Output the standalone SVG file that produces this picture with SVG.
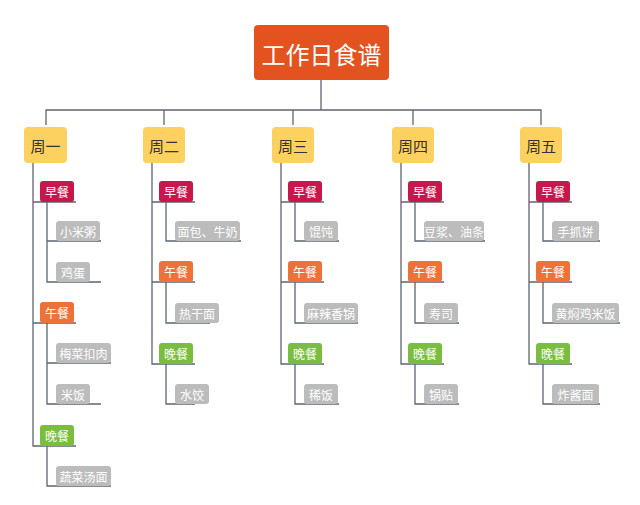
<svg xmlns="http://www.w3.org/2000/svg" width="640" height="505" viewBox="0 0 640 505">
<style>
text{font-family:"Noto Sans CJK SC",sans-serif;text-anchor:middle;dominant-baseline:central}
.root{fill:#e2531f}.day{fill:#fcd15f}.b{fill:#c8174c}.l{fill:#ee7237}.d{fill:#7bbd3e}.it{fill:#bcbcbc}
.w{fill:#fff;font-size:12px}.c path{fill:none;stroke:#5d6670;stroke-width:1.3}
</style>
<rect width="640" height="505" fill="#fff"/>
<g class="c">
<path d="M321 80V110M46 125V110H541V125M164 110V125M293 110V125M413 110V125"/>
<!-- col1 -->
<path d="M33 163V446H76M33 202H76M33 323H76M47 202V241H101M47 241V282H101M47 323V363H111M47 363V404H101M47 446V486H111"/>
<path d="M152 163V364H195M152 202H195M152 282H195M166 202V241H241M166 282V323H210M166 364V404H195"/>
<path d="M281 163V364H324M281 202H324M281 282H324M295 202V241H339M295 282V323H358M295 364V404H339"/>
<path d="M401 163V364H444M401 202H444M401 282H444M415 202V241H485M415 282V323H459M415 364V404H459"/>
<path d="M529 163V364H572M529 202H572M529 282H572M543 202V241H600M543 282V323H620M543 364V404H600"/>
</g>
<g id="root"><rect class="root" x="254" y="25" width="135" height="55" rx="4"/><text x="321.5" y="53" fill="#fff" font-size="24">工作日食谱</text></g>
<g id="d1"><rect class="day" x="24" y="127" width="43" height="36" rx="4"/><text x="45.5" y="145" font-size="15" fill="#333">周一</text></g>
<g id="d2"><rect class="day" x="143" y="127" width="42" height="36" rx="4"/><text x="164" y="145" font-size="15" fill="#333">周二</text></g>
<g id="d3"><rect class="day" x="272" y="127" width="42" height="36" rx="4"/><text x="293" y="145" font-size="15" fill="#333">周三</text></g>
<g id="d4"><rect class="day" x="392" y="127" width="42" height="36" rx="4"/><text x="413" y="145" font-size="15" fill="#333">周四</text></g>
<g id="d5"><rect class="day" x="520" y="127" width="42" height="36" rx="4"/><text x="541" y="145" font-size="15" fill="#333">周五</text></g>
<!-- col1 -->
<g id="m11"><rect class="b" x="40" y="181" width="34" height="21" rx="3"/><text class="w" x="57" y="191.5">早餐</text></g>
<g id="i111"><rect class="it" x="56" y="221" width="44" height="20" rx="3"/><text class="w" x="78" y="231">小米粥</text></g>
<g id="i112"><rect class="it" x="56" y="262" width="34" height="20" rx="3"/><text class="w" x="73" y="272">鸡蛋</text></g>
<g id="m12"><rect class="l" x="40" y="302" width="34" height="21" rx="3"/><text class="w" x="57" y="312.5">午餐</text></g>
<g id="i121"><rect class="it" x="56" y="343" width="55" height="20" rx="3"/><text class="w" x="83.5" y="353">梅菜扣肉</text></g>
<g id="i122"><rect class="it" x="56" y="384" width="34" height="20" rx="3"/><text class="w" x="73" y="394">米饭</text></g>
<g id="m13"><rect class="d" x="40" y="425" width="34" height="21" rx="3"/><text class="w" x="57" y="435.5">晚餐</text></g>
<g id="i131"><rect class="it" x="56" y="466" width="55" height="20" rx="3"/><text class="w" x="83.5" y="476">蔬菜汤面</text></g>
<!-- col2 -->
<g id="m21"><rect class="b" x="159" y="181" width="34" height="21" rx="3"/><text class="w" x="176" y="191.5">早餐</text></g>
<g id="i211"><rect class="it" x="175" y="221" width="65" height="20" rx="3"/><text class="w" x="207.5" y="231">面包、牛奶</text></g>
<g id="m22"><rect class="l" x="159" y="261" width="34" height="21" rx="3"/><text class="w" x="176" y="271.5">午餐</text></g>
<g id="i221"><rect class="it" x="175" y="303" width="44" height="20" rx="3"/><text class="w" x="197" y="313">热干面</text></g>
<g id="m23"><rect class="d" x="159" y="343" width="34" height="21" rx="3"/><text class="w" x="176" y="353.5">晚餐</text></g>
<g id="i231"><rect class="it" x="175" y="384" width="34" height="20" rx="3"/><text class="w" x="192" y="394">水饺</text></g>
<!-- col3 -->
<g id="m31"><rect class="b" x="288" y="181" width="34" height="21" rx="3"/><text class="w" x="305" y="191.5">早餐</text></g>
<g id="i311"><rect class="it" x="304" y="221" width="34" height="20" rx="3"/><text class="w" x="321" y="231">馄饨</text></g>
<g id="m32"><rect class="l" x="288" y="261" width="34" height="21" rx="3"/><text class="w" x="305" y="271.5">午餐</text></g>
<g id="i321"><rect class="it" x="304" y="303" width="54" height="20" rx="3"/><text class="w" x="331" y="313">麻辣香锅</text></g>
<g id="m33"><rect class="d" x="288" y="343" width="34" height="21" rx="3"/><text class="w" x="305" y="353.5">晚餐</text></g>
<g id="i331"><rect class="it" x="304" y="384" width="34" height="20" rx="3"/><text class="w" x="321" y="394">稀饭</text></g>
<!-- col4 -->
<g id="m41"><rect class="b" x="408" y="181" width="34" height="21" rx="3"/><text class="w" x="425" y="191.5">早餐</text></g>
<g id="i411"><rect class="it" x="424" y="221" width="60" height="20" rx="3"/><text class="w" x="454" y="231">豆浆、油条</text></g>
<g id="m42"><rect class="l" x="408" y="261" width="34" height="21" rx="3"/><text class="w" x="425" y="271.5">午餐</text></g>
<g id="i421"><rect class="it" x="424" y="303" width="34" height="20" rx="3"/><text class="w" x="441" y="313">寿司</text></g>
<g id="m43"><rect class="d" x="408" y="343" width="34" height="21" rx="3"/><text class="w" x="425" y="353.5">晚餐</text></g>
<g id="i431"><rect class="it" x="424" y="384" width="34" height="20" rx="3"/><text class="w" x="441" y="394">锅贴</text></g>
<!-- col5 -->
<g id="m51"><rect class="b" x="536" y="181" width="34" height="21" rx="3"/><text class="w" x="553" y="191.5">早餐</text></g>
<g id="i511"><rect class="it" x="552" y="221" width="47" height="20" rx="3"/><text class="w" x="575.5" y="231">手抓饼</text></g>
<g id="m52"><rect class="l" x="536" y="261" width="34" height="21" rx="3"/><text class="w" x="553" y="271.5">午餐</text></g>
<g id="i521"><rect class="it" x="552" y="303" width="67" height="20" rx="3"/><text class="w" x="585.5" y="313">黄焖鸡米饭</text></g>
<g id="m53"><rect class="d" x="536" y="343" width="34" height="21" rx="3"/><text class="w" x="553" y="353.5">晚餐</text></g>
<g id="i531"><rect class="it" x="552" y="384" width="47" height="20" rx="3"/><text class="w" x="575.5" y="394">炸酱面</text></g>
</svg>
